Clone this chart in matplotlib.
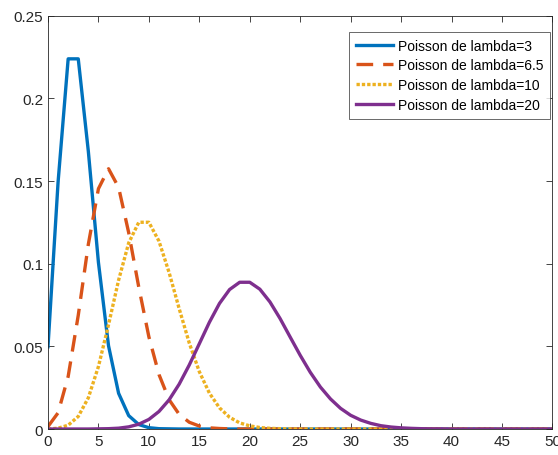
import numpy as np
import matplotlib.pyplot as plt

# valeurs (k = 0..50)
k = list(range(51))

p3 = [0.0498, 0.1494, 0.2240, 0.2240, 0.1680, 0.1008, 0.0504, 0.0216, 0.0081, 0.0027,
      0.0008, 0.0002, 0.0001] + [0.0] * 38

p65 = [0.0015, 0.0098, 0.0318, 0.0688, 0.1118, 0.1454, 0.1575, 0.1462, 0.1188, 0.0858,
       0.0558, 0.0330, 0.0178, 0.0089, 0.0041, 0.0018, 0.0007, 0.0003, 0.0001] + [0.0] * 32

p10 = [0.0000, 0.0005, 0.0023, 0.0076, 0.0189, 0.0378, 0.0631, 0.0901, 0.1126, 0.1251,
       0.1251, 0.1137, 0.0948, 0.0729, 0.0521, 0.0347, 0.0217, 0.0128, 0.0071, 0.0037,
       0.0019, 0.0009, 0.0004, 0.0002, 0.0001] + [0.0] * 26

p20 = [0.0, 0.0, 0.0, 0.0, 0.0, 0.0001, 0.0002, 0.0005, 0.0013, 0.0029,
       0.0058, 0.0106, 0.0176, 0.0271, 0.0387, 0.0516, 0.0646, 0.0760, 0.0844, 0.0888,
       0.0888, 0.0846, 0.0769, 0.0669, 0.0557, 0.0446, 0.0343, 0.0254, 0.0182, 0.0125,
       0.0083, 0.0054, 0.0034, 0.0020, 0.0012, 0.0007, 0.0004, 0.0002, 0.0001, 0.0001,
       0.0] + [0.0] * 10

labels = ['Poisson de lambda=3', 'Poisson de lambda=6.5',
          'Poisson de lambda=10', 'Poisson de lambda=20']

plt.rcParams['font.family'] = ['Liberation Sans', 'DejaVu Sans']

fig = plt.figure(figsize=(5.58, 4.56), dpi=100)
ax = fig.add_axes([0.086, 0.057, 0.904, 0.906])

ax.plot(k, p3, color='#0072BD', lw=2.4, ls='-', label=labels[0])
ax.plot(k, p65, color='#D95319', lw=2.4, ls=(0, (5, 3)), label=labels[1])
ax.plot(k, p10, color='#EDB120', lw=2.4, ls=(0, (1, 0.6)), label=labels[2])
ax.plot(k, p20, color='#7E2F8E', lw=2.4, ls='-', label=labels[3])

ax.set_xlim(0, 50)
ax.set_ylim(0, 0.25)
ax.set_xticks(np.arange(0, 51, 5))
ax.set_yticks([0, 0.05, 0.1, 0.15, 0.2, 0.25])
ax.set_yticklabels(['0', '0.05', '0.1', '0.15', '0.2', '0.25'])
ax.tick_params(direction='in', top=True, right=True, labelsize=11,
               colors='#262626', length=4, width=0.6)
for s in ax.spines.values():
    s.set_color('#262626')
    s.set_linewidth(0.6)

leg = ax.legend(loc='upper right', fontsize=10, frameon=True, fancybox=False,
                edgecolor='#262626', handlelength=2.7, borderpad=0.5,
                labelspacing=0.42, handletextpad=0.35, borderaxespad=0,
                bbox_to_anchor=(0.996, 0.962))
leg.get_frame().set_linewidth(0.6)

fig.savefig('out.png', dpi=100)
